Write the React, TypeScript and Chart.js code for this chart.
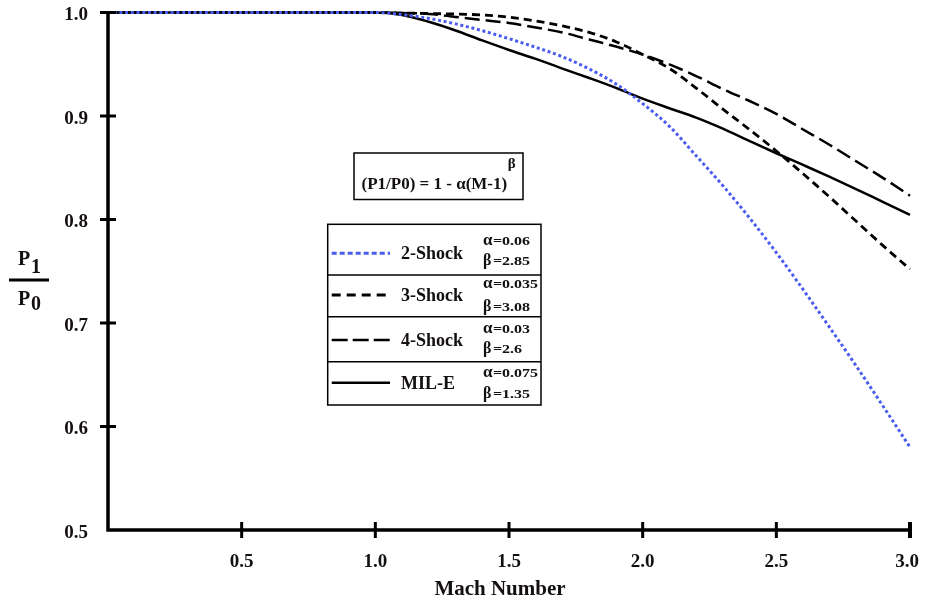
import React, { useEffect, useRef } from 'react';
import { Chart, registerables } from 'chart.js';

Chart.register(...registerables);

// ---- data ----
const machNumbers = [0, 1.0, 1.1, 1.2, 1.3, 1.4, 1.5, 1.6, 1.7, 1.8, 1.9, 2.0, 2.1, 2.2, 2.3, 2.4, 2.5, 2.6, 2.7, 2.8, 2.9, 3.0];
const shock2 = [1, 1, 0.998, 0.9943, 0.989, 0.9824, 0.9747, 0.9664, 0.9572, 0.9455, 0.931, 0.912, 0.89, 0.8616, 0.8327, 0.8014, 0.768, 0.7324, 0.6955, 0.658, 0.6193, 0.58];
const shock3 = [1, 1, 0.9995, 0.999, 0.9985, 0.9976, 0.9955, 0.9918, 0.987, 0.9808, 0.9718, 0.9594, 0.9459, 0.927, 0.9066, 0.8868, 0.8662, 0.8442, 0.8215, 0.798, 0.7745, 0.752];
const shock4 = [1, 1, 0.9995, 0.9986, 0.9957, 0.9928, 0.9899, 0.9855, 0.9807, 0.9739, 0.9671, 0.9594, 0.9498, 0.9386, 0.926, 0.9145, 0.902, 0.887, 0.872, 0.856, 0.84, 0.823];
const milE = [1, 1, 0.9976, 0.991, 0.9826, 0.973, 0.9638, 0.9552, 0.9458, 0.9367, 0.9272, 0.9168, 0.9075, 0.8985, 0.8878, 0.8758, 0.864, 0.8527, 0.8412, 0.8292, 0.8168, 0.8045];

const xTickValues = [0.5, 1.0, 1.5, 2.0, 2.5, 3.0];
const yTickValues = [0.5, 0.6, 0.7, 0.8, 0.9, 1.0];

const seriesNames = ['2-Shock', '3-Shock', '4-Shock', 'MIL-E'];
const alphaLabels = ['=0.06', '=0.035', '=0.03', '=0.075'];
const betaLabels = ['=2.85', '=3.08', '=2.6', '=1.35'];
const formulaText = '(P1/P0) = 1 - \u03b1(M-1)';
const xTitle = 'Mach Number';

// ---- styles ----
const FONT = '"Liberation Serif", "Times New Roman", serif';
const seriesColors = ['#4a5cf0', '#000000', '#000000', '#000000'];
const chartDashes = [[3, 2.7], [8, 5], [15, 6], []];
const legendDashes = [[5, 3], [9, 6], [16, 5], []];
const lineWidths = [3, 2.8, 2.5, 2.5];

const decorPlugin = {
  id: 'decor',
  afterDraw(chart: any) {
    const ctx: CanvasRenderingContext2D = chart.ctx;
    const xs = chart.scales.x;
    const ys = chart.scales.y;
    const a = chart.chartArea;
    ctx.save();
    ctx.strokeStyle = '#000';
    ctx.fillStyle = '#141010';
    ctx.setLineDash([]);
    ctx.lineCap = 'butt';

    // axes
    ctx.lineWidth = 3.5;
    ctx.beginPath();
    ctx.moveTo(a.left, a.top);
    ctx.lineTo(a.left, a.bottom);
    ctx.lineTo(a.right, a.bottom);
    ctx.stroke();

    // y ticks + labels
    ctx.lineWidth = 3;
    ctx.font = `bold 19px ${FONT}`;
    ctx.textAlign = 'right';
    ctx.textBaseline = 'alphabetic';
    yTickValues.forEach((v) => {
      const y = ys.getPixelForValue(v);
      if (v > 0.5) {
        ctx.beginPath();
        ctx.moveTo(a.left - 8, y);
        ctx.lineTo(a.left + 8, y);
        ctx.stroke();
      }
      ctx.fillText(v.toFixed(1), a.left - 20, y + 7.5);
    });

    // x ticks + labels
    ctx.textAlign = 'center';
    xTickValues.forEach((v, i) => {
      const x = xs.getPixelForValue(v);
      ctx.lineWidth = i === xTickValues.length - 1 ? 4 : 3;
      ctx.beginPath();
      ctx.moveTo(x, a.bottom - 8);
      ctx.lineTo(x, a.bottom + 8);
      ctx.stroke();
      ctx.fillText(v.toFixed(1), i === xTickValues.length - 1 ? x - 3 : x, 567);
    });

    // x title
    ctx.font = `bold 21px ${FONT}`;
    ctx.fillText(xTitle, 500, 595);

    // y title P1 / P0
    ctx.textAlign = 'left';
    ctx.font = `bold 20px ${FONT}`;
    ctx.fillText('P', 18, 265);
    ctx.fillText('1', 31, 273);
    ctx.fillText('P', 18, 305);
    ctx.fillText('0', 31, 310);
    ctx.lineWidth = 3;
    ctx.beginPath();
    ctx.moveTo(9, 280);
    ctx.lineTo(49, 280);
    ctx.stroke();

    // formula box
    ctx.lineWidth = 1.5;
    ctx.strokeRect(354, 153, 169, 46.5);
    ctx.font = `bold 17px ${FONT}`;
    ctx.fillText(formulaText, 361.5, 189);
    const fw = ctx.measureText(formulaText).width;
    ctx.font = `bold 15px ${FONT}`;
    ctx.fillText('\u03b2', 361.5 + fw + 0.5, 168);

    // legend box
    const boxL = 327.7, boxR = 541, boxT = 224.3, boxB = 405;
    const dividers = [275, 316.7, 361.7];
    const rowCenters = [253.3, 295, 340, 382.7];
    const alphaBase = [245, 288.3, 333.3, 376.7];
    const betaBase = [265, 311, 353.3, 398.3];
    ctx.lineWidth = 1.5;
    ctx.strokeRect(boxL, boxT, boxR - boxL, boxB - boxT);
    dividers.forEach((y) => {
      ctx.beginPath();
      ctx.moveTo(boxL, y);
      ctx.lineTo(boxR, y);
      ctx.stroke();
    });
    seriesNames.forEach((name, i) => {
      const cy = rowCenters[i];
      ctx.save();
      ctx.strokeStyle = seriesColors[i];
      ctx.lineWidth = lineWidths[i];
      ctx.setLineDash(legendDashes[i]);
      ctx.beginPath();
      ctx.moveTo(331.7, cy);
      ctx.lineTo(390, cy);
      ctx.stroke();
      ctx.restore();
      ctx.font = `bold 18px ${FONT}`;
      ctx.fillText(name, 401, cy + 6);
      ctx.font = `bold 17px ${FONT}`;
      ctx.fillText('\u03b1', 483, alphaBase[i]);
      ctx.font = `bold 16px ${FONT}`;
      ctx.fillText('\u03b2', 483, betaBase[i]);
      [[alphaLabels[i], alphaBase[i]], [betaLabels[i], betaBase[i]]].forEach(([t, b]) => {
        ctx.save();
        ctx.translate(493, b as number);
        ctx.scale(1, 0.72);
        ctx.font = `bold 16px ${FONT}`;
        ctx.fillText(t as string, 0, 0);
        ctx.restore();
      });
    });
    ctx.restore();
  },
};

export default function App() {
  const canvasRef = useRef<HTMLCanvasElement | null>(null);

  useEffect(() => {
    const canvas = canvasRef.current;
    if (!canvas) return;
    const seriesValues = [shock2, shock3, shock4, milE];
    const chart = new Chart(canvas, {
      type: 'line',
      data: {
        datasets: seriesValues.map((vals, i) => ({
          label: seriesNames[i],
          data: machNumbers.map((m, j) => ({ x: m, y: vals[j] })),
          borderColor: seriesColors[i],
          borderWidth: lineWidths[i],
          borderDash: chartDashes[i],
          pointRadius: 0,
          fill: false,
          cubicInterpolationMode: 'monotone',
          clip: false,
        })),
      },
      options: {
        responsive: false,
        animation: false,
        devicePixelRatio: 1,
        layout: { padding: { left: 108, right: 15, top: 12.5, bottom: 76 } },
        scales: {
          x: { type: 'linear', min: 0, max: 3, display: false },
          y: { type: 'linear', min: 0.5, max: 1.0, display: false },
        },
        plugins: { legend: { display: false }, tooltip: { enabled: false } },
      },
      plugins: [decorPlugin],
    } as any);
    return () => chart.destroy();
  }, []);

  return (
    <div style={{ position: 'absolute', left: 0, top: 0, width: 925, height: 606, background: '#fff' }}>
      <canvas ref={canvasRef} width={925} height={606} style={{ display: 'block', width: 925, height: 606 }} />
    </div>
  );
}
